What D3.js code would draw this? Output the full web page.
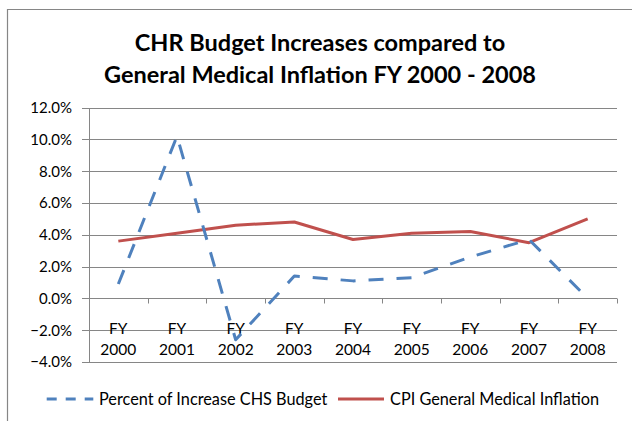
<!DOCTYPE html>
<html>
<head>
<meta charset="utf-8">
<script src="https://cdn.jsdelivr.net/npm/d3@7"></script>
<style>
  body { margin: 0; background: #fff; }
  svg { display: block; }
  text { font-family: Lato, "Open Sans", sans-serif; fill: #000; }
</style>
</head>
<body>
<svg id="chart" width="632" height="421"></svg>
<script>
// data (percent)
var categories = ["FY 2000", "FY 2001", "FY 2002", "FY 2003", "FY 2004", "FY 2005", "FY 2006", "FY 2007", "FY 2008"];
var chsBudget = [0.9, 10.2, -2.6, 1.4, 1.1, 1.3, 2.6, 3.7, 0.0];
var cpiMedical = [3.6, 4.1, 4.6, 4.8, 3.7, 4.1, 4.2, 3.5, 5.0];
var yTicks = [-4, -2, 0, 2, 4, 6, 8, 10, 12];
var titleLines = ["CHR Budget Increases compared to", "General Medical Inflation FY 2000 - 2008"];
var seriesNames = ["Percent of Increase CHS Budget", "CPI General Medical Inflation"];

var blue = "#4f81bd", red = "#c0504d", grid = "#868686";

var svg = d3.select("#chart");
var plotL = 89, plotR = 617, plotT = 107.5, plotB = 362;

var x = d3.scaleBand().domain(categories).range([plotL, plotR]);
var y = d3.scaleLinear().domain([-4, 12]).range([plotB, plotT]);
var cx = function(c){ return x(c) + x.bandwidth() / 2; };
var snap = function(v){ return Math.round(v) + 0.5; };

// outer chart border (cut off at right and bottom)
svg.append("path")
  .attr("d", "M7.5,430V9.5H640")
  .attr("fill", "none")
  .attr("stroke", grid)
  .attr("stroke-width", 1.2);

// title
svg.append("g").selectAll("text")
  .data(titleLines)
  .enter().append("text")
  .attr("x", 320)
  .attr("y", function(d, i){ return 51 + i * 32; })
  .attr("text-anchor", "middle")
  .style("font-size", "23.5px")
  .style("font-weight", "bold")
  .text(function(d){ return d; });

// gridlines
svg.append("g").selectAll("line")
  .data(yTicks)
  .enter().append("line")
  .attr("x1", plotL - 7).attr("x2", plotR)
  .attr("y1", function(d){ return snap(y(d)); })
  .attr("y2", function(d){ return snap(y(d)); })
  .attr("stroke", grid).attr("stroke-width", 1);

// y axis line
svg.append("line")
  .attr("x1", plotL + 0.5).attr("x2", plotL + 0.5)
  .attr("y1", snap(y(12))).attr("y2", snap(y(-4)))
  .attr("stroke", grid);

// y labels
svg.append("g").selectAll("text")
  .data(yTicks)
  .enter().append("text")
  .attr("x", 72)
  .attr("y", function(d){ return y(d); })
  .attr("dy", "0.36em")
  .attr("text-anchor", "end")
  .style("font-size", "15px")
  .text(function(d){ return d3.format(".1f")(d) + "%"; });

// x axis ticks at band boundaries
var bounds = categories.map(function(c){ return x(c) + x.bandwidth(); });
svg.append("g").selectAll("line")
  .data(bounds)
  .enter().append("line")
  .attr("x1", snap).attr("x2", snap)
  .attr("y1", snap(y(0))).attr("y2", snap(y(0)) + 5)
  .attr("stroke", grid);

// x labels, two lines each
var xl = svg.append("g").selectAll("text")
  .data(categories)
  .enter().append("text")
  .attr("text-anchor", "middle")
  .style("font-size", "15.5px");
xl.append("tspan")
  .attr("x", cx).attr("y", 334)
  .text(function(d){ return d.split(" ")[0]; });
xl.append("tspan")
  .attr("x", cx).attr("y", 355)
  .text(function(d){ return d.split(" ")[1]; });

// series
var line = d3.line()
  .x(function(d, i){ return cx(categories[i]); })
  .y(function(d){ return y(d); });

svg.append("path")
  .datum(cpiMedical)
  .attr("d", line)
  .attr("fill", "none")
  .attr("stroke", red)
  .attr("stroke-width", 3)
  .attr("stroke-linejoin", "round");

svg.append("path")
  .datum(chsBudget)
  .attr("d", line)
  .attr("fill", "none")
  .attr("stroke", blue)
  .attr("stroke-width", 3)
  .attr("stroke-dasharray", "15,13")
  .attr("stroke-linejoin", "round");

// legend
var legend = svg.append("g");
legend.append("line")
  .attr("x1", 46.7).attr("x2", 93.3).attr("y1", 399).attr("y2", 399)
  .attr("stroke", blue).attr("stroke-width", 3).attr("stroke-dasharray", "10,9");
legend.append("text")
  .attr("x", 99).attr("y", 399).attr("dy", "0.36em")
  .style("font-size", "16.3px")
  .text(seriesNames[0]);
legend.append("line")
  .attr("x1", 338).attr("x2", 384).attr("y1", 399).attr("y2", 399)
  .attr("stroke", red).attr("stroke-width", 3);
legend.append("text")
  .attr("x", 390).attr("y", 399).attr("dy", "0.36em")
  .style("font-size", "16.3px")
  .text(seriesNames[1]);
</script>
</body>
</html>
